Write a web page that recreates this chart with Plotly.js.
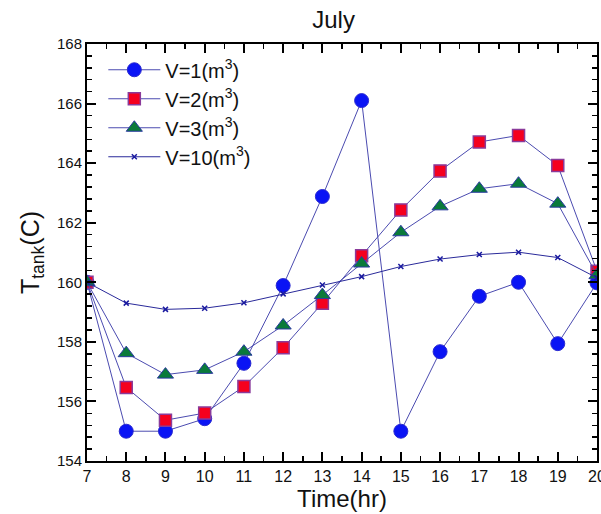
<!DOCTYPE html>
<html><head><meta charset="utf-8">
<script src="https://cdn.plot.ly/plotly-3.0.1.min.js"></script>
<style>body{margin:0;background:#fff}#c{width:601px;height:514px}</style>
</head><body><div id="c"></div>
<script>
const hours = [7,8,9,10,11,12,13,14,15,16,17,18,19,20];
const v1  = [160,155.0,155.0,155.42,157.28,159.89,162.88,166.10,155.0,157.67,159.53,160.0,157.94,159.98];
const v2  = [160,156.47,155.37,155.61,156.5,157.8,159.3,160.89,162.43,163.74,164.71,164.93,163.92,160.37];
const v3  = [160,157.62,156.9,157.06,157.67,158.55,159.57,160.63,161.68,162.55,163.14,163.31,162.64,160.24];
const v10 = [160,159.3,159.09,159.13,159.31,159.61,159.91,160.19,160.53,160.78,160.93,161.01,160.83,160.15];
const names = ['V=1(m<sup>3</sup>)','V=2(m<sup>3</sup>)','V=3(m<sup>3</sup>)','V=10(m<sup>3</sup>)'];
const lineCol = '#4b4bb0';
const traces = [
 {x:hours,y:v1,name:names[0],mode:'lines+markers',line:{color:lineCol,width:1},
  marker:{symbol:'circle',size:14,color:'#0a14f5',line:{color:'#2a2ad0',width:1}}},
 {x:hours,y:v2,name:names[1],mode:'lines+markers',line:{color:lineCol,width:1},
  marker:{symbol:'square',size:12,color:'#f5001e',line:{color:'#8a3a9a',width:1.5}}},
 {x:hours,y:v3,name:names[2],mode:'lines+markers',line:{color:lineCol,width:1},
  marker:{symbol:'triangle-up',size:14,color:'#0a7a3a',line:{color:'#2a3aa0',width:1}}},
 {x:hours,y:v10,name:names[3],mode:'lines+markers',line:{color:'#2a2a9a',width:1},
  marker:{symbol:'x-thin-open',size:5,color:'#1a1aa0',line:{color:'#1a1aa0',width:1.5}}}
];
const ff = '"Liberation Sans", Arial, sans-serif';
const layout = {
 width:601,height:514,
 margin:{l:87,r:4,t:44,b:53},
 paper_bgcolor:'#fff',plot_bgcolor:'#fff',
 font:{family:ff,color:'#111'},
 title:{text:'July',font:{size:24,family:ff,color:'#111'},x:0.555,xanchor:'center',y:0.962,yanchor:'middle'},
 showlegend:true,
 legend:{x:0.032,y:0.985,xanchor:'left',yanchor:'top',bgcolor:'rgba(0,0,0,0)',font:{size:20,family:ff,color:'#111'},tracegroupgap:0,itemwidth:52},
 xaxis:{range:[7,20],dtick:1,tick0:7,ticks:'inside',ticklen:9,tickwidth:2,tickcolor:'#000',
  showline:true,linecolor:'#000',linewidth:2,mirror:'ticks',showgrid:false,zeroline:false,
  ticklabeloverflow:'allow',
  minor:{dtick:0.5,ticks:'inside',ticklen:5,tickwidth:1.5,tickcolor:'#000',showgrid:false},
  tickfont:{size:16,family:ff,color:'#111'},
  title:{text:'Time(hr)',font:{size:24,family:ff,color:'#111'},standoff:3}},
 yaxis:{range:[154,168],dtick:2,tick0:154,ticks:'inside',ticklen:9,tickwidth:2,tickcolor:'#000',
  showline:true,linecolor:'#000',linewidth:2,mirror:'ticks',showgrid:false,zeroline:false,
  minor:{dtick:0.4,ticks:'inside',ticklen:5,tickwidth:1.5,tickcolor:'#000',showgrid:false},
  tickfont:{size:15,family:ff,color:'#111'},
  title:{text:'T<sub>tank</sub>(C)',font:{size:25,family:ff,color:'#111'},standoff:10}}
};
Plotly.newPlot('c',traces,layout,{displayModeBar:false,staticPlot:true});
</script></body></html>
